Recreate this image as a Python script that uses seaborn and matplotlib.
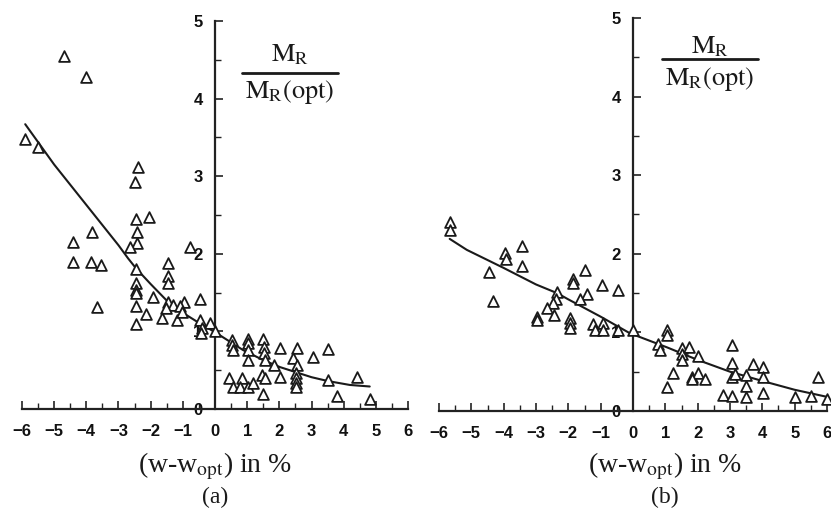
import numpy as np
import pandas as pd
import matplotlib
matplotlib.use("Agg")
import matplotlib.pyplot as plt
from matplotlib.lines import Line2D
from matplotlib.ticker import MultipleLocator, FixedLocator, FixedFormatter
import seaborn as sns

# ---- panel (a): measured points ----
a_x = [-4.7, -4.0, -5.9, -5.5, -2.4, -2.5, -2.45, -2.05, -2.42, -3.82, -4.41, -2.42, -2.64, -0.78,
       -4.41, -3.85, -3.54, -2.45, -1.46, -1.46, -1.46, -2.45, -2.45, -2.45, -1.93, -0.47, -2.45,
       -3.66, -1.46, -1.30, -0.96, -1.09, -1.52, -2.14, -1.65, -1.18, -1.03, -2.45, -0.47, -0.16,
       -0.40, -0.43, 0.0,
       0.53, 0.53, 0.56, 1.02, 1.02, 1.02, 1.02, 1.49, 1.52, 1.52, 1.55, 2.02, 2.55, 2.42, 2.55,
       3.04, 3.51, 1.83, 1.46, 1.55, 2.02, 0.43, 0.84, 0.56, 0.78, 1.02, 1.18, 1.49, 2.52, 2.52,
       2.52, 2.52, 3.51, 4.41, 3.79, 4.81]
a_y = [4.55, 4.28, 3.48, 3.38, 3.12, 2.93, 2.45, 2.48, 2.28, 2.28, 2.15, 2.14, 2.09, 2.09,
       1.90, 1.90, 1.86, 1.81, 1.88, 1.71, 1.62, 1.62, 1.53, 1.49, 1.44, 1.42, 1.33,
       1.31, 1.38, 1.34, 1.38, 1.33, 1.30, 1.22, 1.17, 1.15, 1.25, 1.10, 1.15, 1.11,
       1.04, 0.98, 1.00,
       0.89, 0.82, 0.76, 0.90, 0.85, 0.76, 0.63, 0.90, 0.80, 0.72, 0.63, 0.79, 0.79, 0.66, 0.57,
       0.67, 0.77, 0.57, 0.44, 0.40, 0.41, 0.40, 0.40, 0.28, 0.28, 0.28, 0.33, 0.19, 0.46, 0.40,
       0.34, 0.28, 0.37, 0.41, 0.17, 0.13]

# ---- panel (a): fitted trend ----
a_fit_x = [-5.9, -5.0, -4.0, -3.0, -2.7, -2.45, -2.0, -1.46, -1.0, -0.5, 0.0, 0.87, 1.5, 2.02, 3.0, 3.51, 4.19, 4.81]
a_fit_y = [3.67, 3.15, 2.63, 2.11, 1.94, 1.81, 1.61, 1.38, 1.24, 1.11, 0.99, 0.76, 0.63, 0.54, 0.41, 0.36, 0.31, 0.29]

# ---- panel (b): measured points ----
b_x = [-5.67, -5.67, -3.44, -3.96, -3.93, -3.44, -4.46, -4.33, -1.49, -1.86, -1.86, -0.96, -0.46,
       -1.42, -2.35, -1.64, -2.38, -2.48, -2.66, -2.45, -2.97, -2.97, -1.95, -1.95, -1.95, -1.24,
       -0.93, -1.18, -0.93, -0.46,
       0.0, 1.05, 1.05, 0.77, 0.84, 1.52, 1.52, 1.52, 1.73, 2.01, 1.24, 1.05, 1.83, 2.01, 2.23,
       1.83, 3.07, 3.07, 3.07, 3.16, 2.79, 3.07, 3.50, 3.50, 3.50, 3.72, 4.02, 4.02, 4.02, 5.02,
       5.51, 5.73, 6.0]
b_y = [2.40, 2.30, 2.10, 2.01, 1.93, 1.84, 1.77, 1.40, 1.79, 1.68, 1.63, 1.60, 1.54,
       1.49, 1.51, 1.42, 1.42, 1.37, 1.31, 1.22, 1.20, 1.16, 1.18, 1.12, 1.06, 1.11,
       1.12, 1.03, 1.03, 1.03,
       1.03, 1.03, 0.97, 0.85, 0.78, 0.80, 0.73, 0.65, 0.81, 0.70, 0.48, 0.31, 0.43, 0.48, 0.41,
       0.41, 0.84, 0.61, 0.43, 0.47, 0.20, 0.19, 0.46, 0.32, 0.18, 0.60, 0.56, 0.43, 0.23, 0.18,
       0.19, 0.43, 0.15]

# ---- panel (b): fitted trend ----
b_fit_x = [-5.67, -5.14, -4.0, -3.0, -2.35, -2.0, -1.0, -0.1, 1.05, 2.0, 3.0, 4.02, 5.0, 6.0]
b_fit_y = [2.19, 2.05, 1.82, 1.61, 1.50, 1.42, 1.20, 0.99, 0.81, 0.65, 0.50, 0.38, 0.27, 0.18]

x_ticks = [-6, -5, -4, -3, -2, -1, 0, 1, 2, 3, 4, 5, 6]
x_tick_labels = ["\u22126", "\u22125", "\u22124", "\u22123", "\u22122", "\u22121",
                 "0", "1", "2", "3", "4", "5", "6"]
y_ticks = [0, 1, 2, 3, 4, 5]
y_tick_labels = ["0", "1", "2", "3", "4", "5"]

sns.set_theme(style="white")
plt.rcParams["font.family"] = ["Liberation Sans", "DejaVu Sans"]
plt.rcParams["mathtext.fontset"] = "stix"

W, H = 831, 516
fig = plt.figure(figsize=(W / 100, H / 100), dpi=100)


def px_axes(left, right, top, bottom):
    return fig.add_axes([left / W, 1 - bottom / H, (right - left) / W, (bottom - top) / H])


def style_axes(ax, xlim, ylim):
    ax.set_xlim(*xlim)
    ax.set_ylim(*ylim)
    for s in ("top", "right"):
        ax.spines[s].set_visible(False)
    ax.spines["left"].set_position(("data", 0))
    ax.spines["bottom"].set_position(("data", 0))
    ax.spines["left"].set_bounds(0, 5)
    ax.spines["bottom"].set_bounds(-6, 6)
    for s in ("left", "bottom"):
        ax.spines[s].set_color("#222222")
        ax.spines[s].set_linewidth(1.6)
    ax.xaxis.set_major_locator(FixedLocator(x_ticks))
    ax.xaxis.set_major_formatter(FixedFormatter(x_tick_labels))
    ax.xaxis.set_minor_locator(MultipleLocator(0.5))
    ax.yaxis.set_major_locator(FixedLocator(y_ticks))
    ax.yaxis.set_major_formatter(FixedFormatter(y_tick_labels))
    ax.yaxis.set_minor_locator(MultipleLocator(0.5))
    ax.tick_params(axis="both", which="both", direction="in", color="#222222",
                   left=True, bottom=True, top=False, right=False)
    ax.tick_params(axis="both", which="major", length=6, width=1.2)
    ax.tick_params(axis="both", which="minor", length=4, width=1.0)
    ax.tick_params(axis="x", which="major", pad=11, labelsize=12)
    ax.tick_params(axis="y", which="major", pad=9, labelsize=12)
    for lab in ax.get_xticklabels() + ax.get_yticklabels():
        lab.set_fontweight("bold")
        lab.set_color("#111111")
    ax.set_xlabel("")
    ax.set_ylabel("")
    ax.patch.set_alpha(0)


def draw_panel(ax, xs, ys, fx, fy):
    pts = pd.DataFrame({"x": xs, "y": ys})
    fit = pd.DataFrame({"x": fx, "y": fy})
    sns.lineplot(data=fit, x="x", y="y", ax=ax, color="#1a1a1a", linewidth=1.5,
                 sort=True, estimator=None, clip_on=False)
    sns.scatterplot(data=pts, x="x", y="y", ax=ax, marker="^", s=60,
                    facecolor="white", edgecolor="#1a1a1a", linewidth=1.3,
                    clip_on=False, zorder=3)


ax_a = px_axes(22 - 0.2 * 32.17, 408 + 0.2 * 32.17, 409 - 5.05 * 77.6, 409)
draw_panel(ax_a, a_x, a_y, a_fit_x, a_fit_y)
style_axes(ax_a, (-6.2, 6.2), (0, 5.05))

ax_b = px_axes(439 - 0.2 * 32.33, 827 + 0.08 * 32.33, 411 - 5.05 * 78.6, 411)
draw_panel(ax_b, b_x, b_y, b_fit_x, b_fit_y)
style_axes(ax_b, (-6.2, 6.08), (0, 5.05))


def fraction(cx, num_base, bar_y, den_base, half):
    fig.text(cx / W, 1 - num_base / H, r"$\mathrm{M_R}$", ha="center", va="baseline",
             fontsize=19, color="#1a1a1a")
    fig.add_artist(Line2D([(cx - half) / W, (cx + half) / W], [1 - bar_y / H, 1 - bar_y / H],
                          color="#1a1a1a", linewidth=2.0))
    fig.text(cx / W, 1 - den_base / H, r"$\mathrm{M_R(opt)}$", ha="center", va="baseline",
             fontsize=19, color="#1a1a1a")


fraction(290, 61, 72.5, 98, 48)
fraction(710, 53, 59, 85, 48)

xlab = r"(w-w$_{\mathrm{opt}}$) in %"
for cx, tag in ((215, "(a)"), (665, "(b)")):
    fig.text(cx / W, 1 - 466 / H, xlab, ha="center", va="center",
             fontsize=20, family="Liberation Serif", color="#1a1a1a")
    fig.text(cx / W, 1 - 497 / H, tag, ha="center", va="center",
             fontsize=17, family="Liberation Serif", color="#1a1a1a")

fig.savefig("out.png", dpi=100, facecolor="white")
